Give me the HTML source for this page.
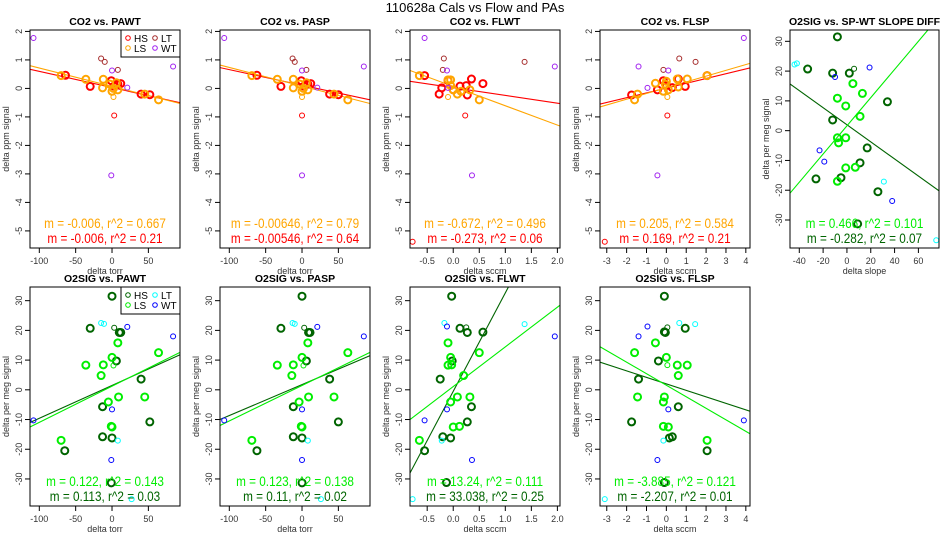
<!DOCTYPE html>
<html><head><meta charset="utf-8"><style>
body{margin:0;background:#fff;width:950px;height:550px;overflow:hidden}
svg{display:block;font-family:"Liberation Sans",sans-serif}
</style></head><body>
<svg id="c" width="950" height="550" xmlns="http://www.w3.org/2000/svg">
<text x="475" y="12" font-size="13" text-anchor="middle">110628a   Cals vs Flow and PAs</text>
</svg>
<script>
// ---- data ----
const groupsTop = ["HS","LS","LT","WT"];
// Panel 1 CO2 vs PAWT
const p1x=[-64,-30,-1,3,8,12,40,52,3, -70,-36,-12,-13,-3,0,2,6,8,45,64,2, -15,-10,8, -108,0,21,-1,84];
const p1y=[0.46,0.07,0.27,0.08,0.15,0.17,-0.2,-0.22,-0.95, 0.45,0.32,0.32,0.02,0.15,-0.1,0.0,0.2,-0.05,-0.2,-0.4,-0.3, 1.05,0.93,0.65, 1.77,0.63,0.03,-3.05,0.77];
const p1g=["HS","HS","HS","HS","HS","HS","HS","HS","hs","LS","LS","LS","LS","LS","LS","LS","LS","LS","LS","LS","ls","LT","LT","LT","WT","WT","WT","WT","WT"];
const p1fit=[[-112.8,0.67,93.5,-0.5],[-112.8,0.8,93.5,-0.53]];
const p1txt=["m = -0.006, r^2 = 0.667","m = -0.006, r^2 = 0.21"];
// Panel 2 CO2 vs PASP
const p2x=[-62,-29,-1,3,8,12,38,50,0, -69,-34,-12,-12,-3,0,2,6,8,44,63,0, -13,-10,6, -107,0,21,0,85];
const p2y=[0.46,0.07,0.27,0.08,0.15,0.17,-0.2,-0.22,-0.95, 0.45,0.32,0.32,0.02,0.15,-0.1,0.0,0.2,-0.05,-0.2,-0.4,-0.3, 1.05,0.93,0.65, 1.77,0.63,0.03,-3.05,0.77];
const p2g=p1g.slice();
const p2fit=[[-112.8,0.73,93.5,-0.4],[-112.8,0.82,93.5,-0.53]];
const p2txt=["m = -0.00646, r^2 = 0.79","m = -0.00546, r^2 = 0.64"];
// Panel 3 CO2 vs FLWT
const p3x=[-0.55,-0.27,-0.22,-0.1,0,0.13,0.25,0.27,0.35,0.57,0.23,-0.78, -0.65,-0.1,-0.05,-0.05,0,0.08,0.15,0.32,0.5,-0.1, -0.18,-0.2,1.37, -0.55,-0.12,-0.1,0.36,1.95];
const p3y=[0.45,-0.2,0.02,0.28,-0.05,0.08,0.1,-0.23,0.33,0.17,-0.95,-5.38, 0.45,0.3,0.3,0.1,-0.05,-0.2,-0.1,-0.05,-0.4,-0.3, 1.05,0.65,0.93, 1.77,0.63,0.02,-3.05,0.77];
const p3g=["HS","HS","HS","HS","HS","HS","HS","HS","HS","HS","hs","hs","LS","LS","LS","LS","LS","LS","LS","LS","LS","ls","LT","LT","LT","WT","WT","WT","WT","WT"];
const p3fit=[[-0.83,0.25,2.05,-0.53],[-0.83,0.63,2.05,-1.32]];
const p3txt=["m = -0.672, r^2 = 0.496","m = -0.273, r^2 = 0.06"];
// Panel 4 CO2 vs FLSP
const p4x=[-1.75,-0.45,-0.15,0,0.3,0.6,0.95,2.05,0.05,-3.1, -1.6,-1.45,-0.55,-0.15,-0.05,0,0.1,0.55,0.6,1.05,2.05,0.05, -0.15,0.65,1.47, -1.4,-0.95,0.1,-0.45,3.9];
const p4y=[-0.23,-0.05,0.27,0.1,0.03,0.33,0.07,0.45,-0.95,-5.38, -0.4,-0.2,0.18,-0.1,0.15,0.25,-0.05,0.33,0.05,0.33,0.45,-0.3, 0.65,1.05,0.93, 0.77,0.02,0.63,-3.05,1.77];
const p4g=["HS","HS","HS","HS","HS","HS","HS","HS","hs","hs","LS","LS","LS","LS","LS","LS","LS","LS","LS","LS","LS","ls","LT","LT","LT","WT","WT","WT","WT","WT"];
const p4fit=[[-3.34,-0.55,4.21,0.72],[-3.34,-0.65,4.21,0.88]];
const p4txt=["m = 0.205, r^2 = 0.584","m = 0.169, r^2 = 0.21"];
// Panel 5 O2SIG vs SP-WT slope diff
const p5x=[-8,-33,-12,2,34,-12,17,11,-26,-5,26,9,6, 5,-8,13,-1,11,-8,-1,-7,-1,7,-8, -44,-42,31,75, -10,19,-23,-19,38];
const p5y=[31.5,20.7,19.3,19.3,9.7,3.6,-5.8,-10.8,-16.2,-15.8,-20.5,-31.3,20.8, 15.8,10.9,12.5,8.3,4.8,-2.4,-2.4,-4.1,-12.5,-12.3,-17, 22.2,22.6,-17.1,-36.8, 18,21.2,-6.6,-10.4,-23.6];
const p5g=["HS","HS","HS","HS","HS","HS","HS","HS","HS","HS","HS","HS","hs","LS","LS","LS","LS","LS","LS","LS","LS","LS","LS","LS","LT","LT","LT","LT","WT","WT","WT","WT","WT"];
const p5fit=[[-47.8,15.7,77.3,-20.2],[-47.8,-21,68,33.8]];
const p5txt=["m = 0.466, r^2 = 0.101","m = -0.282, r^2 = 0.07"];
// Bottom 1 O2SIG vs PAWT
const b1x=[0,-30,10,12,6,40,-13,52,-13,0,-65,-1,3, 8,0,64,-36,-12,-15,-5,9,45,-1,0,-70,2, -15,-11,8,27, 21,84,0,-108,-1];
const b1y=[31.5,20.7,19.3,19.3,9.7,3.6,-5.7,-10.8,-15.8,-16.2,-20.5,-31.3,20.9, 15.8,10.9,12.5,8.3,8.4,4.8,-4.1,-2.4,-2.4,-12.3,-12.5,-17,8.2, 22.5,22.2,-17.1,-36.8, 21.2,18,-6.6,-10.3,-23.6];
const b1g=["HS","HS","HS","HS","HS","HS","HS","HS","HS","HS","HS","HS","hs","LS","LS","LS","LS","LS","LS","LS","LS","LS","LS","LS","LS","ls","LT","LT","LT","LT","WT","WT","WT","WT","WT"];
const b1fit=[[-112.8,-11,93.5,11.8],[-112.8,-12.5,93.5,12.6]];
const b1txt=["m = 0.122, r^2 = 0.143","m = 0.113, r^2 = 0.03"];
// Bottom 2 O2SIG vs PASP
const b2x=[0,-29,9,11,6,38,-12,50,-12,0,-62,0,3, 8,0,63,-34,-12,-14,-4,9,44,-1,0,-69,2, -13,-10,8,26, 21,85,0,-107,0];
const b2y=b1y.slice();
const b2g=b1g.slice();
const b2fit=[[-112.8,-10,93.5,11.5],[-112.8,-12,93.5,12.6]];
const b2txt=["m = 0.123, r^2 = 0.138","m = 0.11, r^2 = 0.02"];
// Bottom 3 O2SIG vs FLWT
const b3x=[-0.03,0.13,0.27,0.57,-0.02,-0.25,0.35,0.27,-0.2,-0.05,-0.55,-0.13,0.25, -0.1,-0.05,0.5,-0.1,-0.03,0.2,-0.05,0.08,0.32,0,0.12,-0.65, -0.17,1.37,-0.22,-0.78, -0.12,1.95,-0.12,-0.55,0.36];
const b3y=[31.5,20.7,19.3,19.4,9.7,3.6,-5.7,-10.8,-15.8,-16.2,-20.5,-31.2,21, 15.8,10.9,12.5,8.3,8.4,4.8,-4.1,-2.4,-2.4,-12.5,-12.3,-17, 22.5,22.1,-17.1,-36.8, 21.3,18,-6.6,-10.3,-23.6];
const b3g=["HS","HS","HS","HS","HS","HS","HS","HS","HS","HS","HS","HS","hs","LS","LS","LS","LS","LS","LS","LS","LS","LS","LS","LS","LS","LT","LT","LT","LT","WT","WT","WT","WT","WT"];
const b3fit=[[-0.83,-28,1.06,34.6],[-0.83,-10,2.05,28.5]];
const b3txt=["m = 13.24, r^2 = 0.111","m = 33.038, r^2 = 0.25"];
// Bottom 4 O2SIG vs FLSP
const b4x=[-0.1,0.95,-0.05,-0.1,-0.4,-1.4,0.6,-1.75,0.15,0.3,2.05,-0.1,0.05, -0.55,0,-1.6,0.55,1.05,0.6,-1.45,-0.1,-0.15,-0.15,0.1,2.05,0.05, 0.65,1.45,-0.15,-3.1, -0.95,-1.4,0.1,3.9,-0.45];
const b4y=[31.5,20.7,19.3,19.5,9.7,3.6,-5.7,-10.8,-16.2,-15.8,-20.5,-31.2,21, 15.8,10.9,12.5,8.3,8.3,4.8,-2.4,-2.4,-4.1,-12.3,-12.5,-17,8.3, 22.5,22.1,-17.1,-36.8, 21.3,18,-6.6,-10.3,-23.6];
const b4g=["HS","HS","HS","HS","HS","HS","HS","HS","HS","HS","HS","HS","hs","LS","LS","LS","LS","LS","LS","LS","LS","LS","LS","LS","LS","ls","LT","LT","LT","LT","WT","WT","WT","WT","WT"];
const b4fit=[[-3.34,9.3,4.21,-7.2],[-3.34,14.5,4.21,-14.8]];
const b4txt=["m = -3.885, r^2 = 0.121","m = -2.207, r^2 = 0.01"];

const torrTicks=[-100,-50,0,50];
const flwtTicks=[-0.5,0,0.5,1,1.5,2];
const flwtLabels=["-0.5","0.0","0.5","1.0","1.5","2.0"];
const flspTicks=[-3,-2,-1,0,1,2,3,4];
const slopeTicks=[-40,-20,0,20,40,60];
const co2Ticks=[-5,-4,-3,-2,-1,0,1,2];
const o2Ticks=[-30,-20,-10,0,10,20,30];

// ---- drawing ----
const NS="http://www.w3.org/2000/svg";
const svg=document.getElementById('c');
function mk(tag,attrs,parent){const e=document.createElementNS(NS,tag);for(const k in attrs)e.setAttribute(k,attrs[k]);(parent||svg).appendChild(e);return e;}
const colTop={HS:"#ff0000",LS:"#ffa500",LT:"#a52a2a",WT:"#a020f0"};
const colO2={HS:"#006400",LS:"#00ee00",LT:"#00ffff",WT:"#0000ff"};

const panels=[
 {id:"co2-pawt",title:"CO2 vs. PAWT",col:0,row:0,xr:[-112.8,93.5],yr:[-5.6,2.05],xs:p1x,ys:p1y,gs:p1g,fit:p1fit,txt:p1txt,xt:torrTicks,xl:null,yt:co2Ticks,xlab:"delta torr",ylab:"delta ppm signal",cols:colTop,legend:true},
 {id:"co2-pasp",title:"CO2 vs. PASP",col:1,row:0,xr:[-112.8,93.5],yr:[-5.6,2.05],xs:p2x,ys:p2y,gs:p2g,fit:p2fit,txt:p2txt,xt:torrTicks,xl:null,yt:co2Ticks,xlab:"delta torr",ylab:"delta ppm signal",cols:colTop},
 {id:"co2-flwt",title:"CO2 vs. FLWT",col:2,row:0,xr:[-0.83,2.05],yr:[-5.6,2.05],xs:p3x,ys:p3y,gs:p3g,fit:p3fit,txt:p3txt,xt:flwtTicks,xl:flwtLabels,yt:co2Ticks,xlab:"delta sccm",ylab:"delta ppm signal",cols:colTop},
 {id:"co2-flsp",title:"CO2 vs. FLSP",col:3,row:0,xr:[-3.34,4.21],yr:[-5.6,2.05],xs:p4x,ys:p4y,gs:p4g,fit:p4fit,txt:p4txt,xt:flspTicks,xl:null,yt:co2Ticks,xlab:"delta sccm",ylab:"delta ppm signal",cols:colTop},
 {id:"o2-slope-diff",title:"O2SIG vs. SP-WT SLOPE DIFF",col:4,row:0,xr:[-47.8,77.3],yr:[-39.4,33.8],xs:p5x,ys:p5y,gs:p5g,fit:p5fit,txt:p5txt,xt:slopeTicks,xl:null,yt:o2Ticks,xlab:"delta slope",ylab:"delta per meg signal",cols:colO2},
 {id:"o2-pawt",title:"O2SIG vs. PAWT",col:0,row:1,xr:[-112.8,93.5],yr:[-39.1,34.6],xs:b1x,ys:b1y,gs:b1g,fit:b1fit,txt:b1txt,xt:torrTicks,xl:null,yt:o2Ticks,xlab:"delta torr",ylab:"delta per meg signal",cols:colO2,legend:true},
 {id:"o2-pasp",title:"O2SIG vs. PASP",col:1,row:1,xr:[-112.8,93.5],yr:[-39.1,34.6],xs:b2x,ys:b2y,gs:b2g,fit:b2fit,txt:b2txt,xt:torrTicks,xl:null,yt:o2Ticks,xlab:"delta torr",ylab:"delta per meg signal",cols:colO2},
 {id:"o2-flwt",title:"O2SIG vs. FLWT",col:2,row:1,xr:[-0.83,2.05],yr:[-39.1,34.6],xs:b3x,ys:b3y,gs:b3g,fit:b3fit,txt:b3txt,xt:flwtTicks,xl:flwtLabels,yt:o2Ticks,xlab:"delta sccm",ylab:"delta per meg signal",cols:colO2},
 {id:"o2-flsp",title:"O2SIG vs. FLSP",col:3,row:1,xr:[-3.34,4.21],yr:[-39.1,34.6],xs:b4x,ys:b4y,gs:b4g,fit:b4fit,txt:b4txt,xt:flspTicks,xl:null,yt:o2Ticks,xlab:"delta sccm",ylab:"delta per meg signal",cols:colO2}
];

panels.forEach(function(p,pi){
  const x0=p.col===4?790:30+190*p.col, x1=p.col===4?939:x0+150;
  const y0=p.row?287:30, y1=p.row?506:248;
  const sx=v=>x0+(v-p.xr[0])/(p.xr[1]-p.xr[0])*(x1-x0);
  const sy=v=>y1-(v-p.yr[0])/(p.yr[1]-p.yr[0])*(y1-y0);
  const g=mk('g',{});
  
  
  const cp=mk('clipPath',{id:'clip'+pi},g);
  mk('rect',{x:x0,y:y0,width:x1-x0,height:y1-y0},cp);
  const t=mk('text',{x:(x0+x1)/2,y:y0-5,'font-size':10.5,'font-weight':'bold','text-anchor':'middle'},g);
  t.textContent=p.title;
  
  
  p.xt.forEach(function(v,i){
    const X=sx(v);
    const tk=mk('line',{x1:X,x2:X,y1:y1,y2:y1+5,stroke:'#000','stroke-width':1},g);
    
    
    const tl=mk('text',{x:X,y:y1+16,'font-size':9,'text-anchor':'middle',fill:'#333'},g);
    tl.textContent=p.xl?p.xl[i]:String(v);
    
    
  });
  p.yt.forEach(function(v){
    const Y=sy(v);
    const tk=mk('line',{x1:x0-5,x2:x0,y1:Y,y2:Y,stroke:'#000','stroke-width':1},g);
    
    
    const tl=mk('text',{x:0,y:0,'font-size':9,'text-anchor':'middle',fill:'#333',transform:'translate('+(x0-8)+','+Y+') rotate(-90)'},g);
    tl.textContent=String(v);
    
    
  });
  const xlab=mk('text',{x:(x0+x1)/2,y:y1+26,'font-size':9,'text-anchor':'middle',fill:'#333'},g);
  xlab.textContent=p.xlab;
  
  
  const ylab=mk('text',{x:0,y:0,'font-size':9,'text-anchor':'middle',fill:'#333',transform:'translate('+(x0-21)+','+((y0+y1)/2)+') rotate(-90)'},g);
  ylab.textContent=p.ylab;
  
  
  const clipG=mk('g',{'clip-path':'url(#clip'+pi+')'},g);
  const fitCols=[p.cols.HS,p.cols.LS];
  p.fit.forEach(function(f,i){
    const l=mk('line',{x1:sx(f[0]),y1:sy(f[1]),x2:sx(f[2]),y2:sy(f[3]),stroke:fitCols[i],'stroke-width':1.1},clipG);
    
    
  });
  p.xs.forEach(function(v,i){
    const grp=p.gs[i]; const G=grp.toUpperCase();
    const thick=(grp==="HS"||grp==="LS");
    const c=mk('circle',{cx:sx(v),cy:sy(p.ys[i]),r:thick?3.5:2.5,fill:'none',stroke:p.cols[G],'stroke-width':thick?2:1},clipG);
    
    
  });
  const ty=p.row?[486,501]:[228,243];
  const tc=[p.cols.LS,p.cols.HS];
  p.txt.forEach(function(s,i){
    const cx=(x0+x1)/2;
    const a=mk('text',{x:0,y:0,'font-size':14,'text-anchor':'middle',fill:tc[i],transform:'translate('+cx+','+ty[i]+') scale(0.84,1)'},g);
    a.textContent=s;
    
    
  });
  if(p.legend){
    const lg=mk('g',{},g);
    
    
    mk('rect',{x:121,y:y0,width:x1-121,height:27,fill:'#fff',stroke:'#000','stroke-width':1},lg);
    const items=[["HS",128,y0+8],["LT",155,y0+8],["LS",128,y0+18],["WT",155,y0+18]];
    items.forEach(function(it){
      const e=mk('g',{},lg);
      
      
      mk('circle',{cx:it[1],cy:it[2],r:2.3,fill:'none',stroke:p.cols[it[0]],'stroke-width':1},e);
      const tx=mk('text',{x:it[1]+6,y:it[2]+4,'font-size':10,fill:'#000'},e);
      tx.textContent=it[0];
    });
  }
  const b=mk('rect',{x:x0,y:y0,width:x1-x0,height:y1-y0,fill:'none',stroke:'#000','stroke-width':1},g);
  
  
});
</script>
</body></html>
